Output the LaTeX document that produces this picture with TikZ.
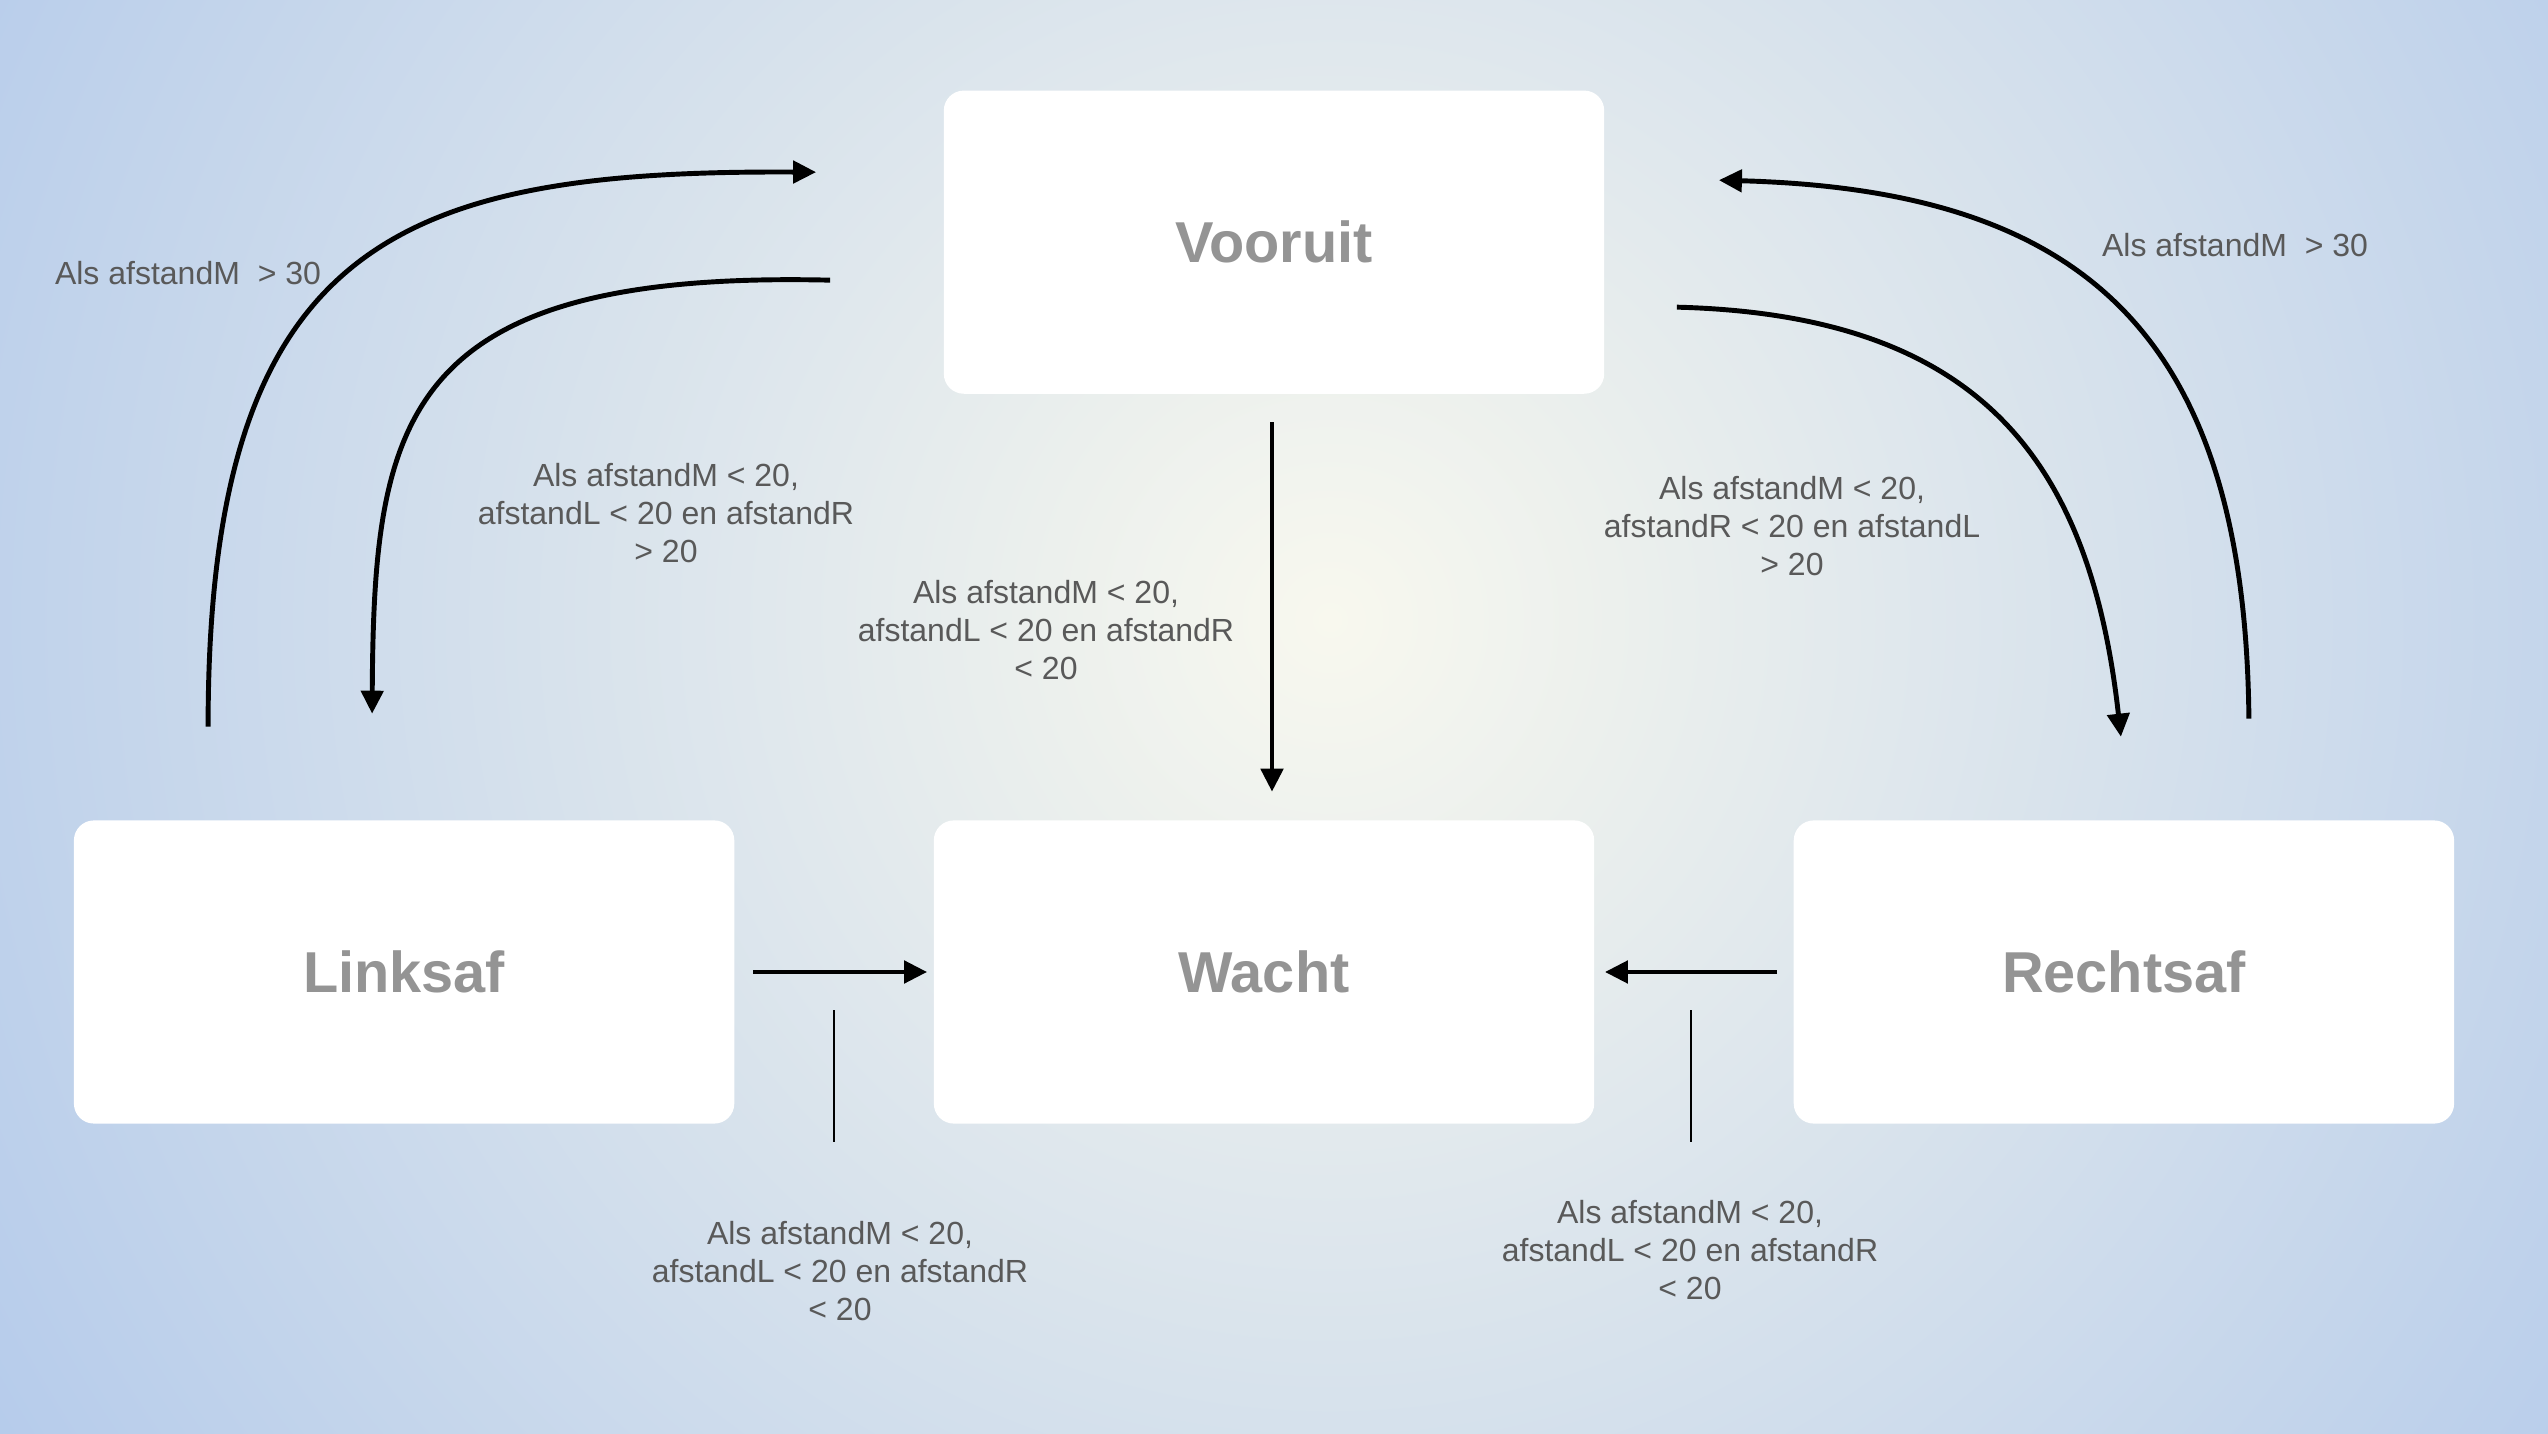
\documentclass[tikz,border=0pt]{standalone}
\usepackage{fontspec}
\setmainfont{Liberation Sans}
\usepackage{tikz}
\usetikzlibrary{positioning, arrows.meta, calc}
\definecolor{bg_center}{HTML}{F8F8EE}
\definecolor{bg_edge}{HTML}{ACC5EA}
\definecolor{mode_text}{HTML}{949494}
\definecolor{cond_text}{HTML}{595959}
\pgfdeclareradialshading{bgglow}{\pgfpointorigin}{color(0bp)=(bg_center); color(28bp)=(bg_edge); color(50bp)=(bg_edge)}
\tikzstyle{mode} = [rectangle, rounded corners=0.2cm, fill=white, minimum width=6.6cm, minimum height=3.03cm, text=mode_text, font=\bfseries\fontsize{16.4}{19}\selectfont]
\tikzstyle{cond} = [align=center, text=cond_text, font=\fontsize{9.1}{10.9}\selectfont]
\tikzstyle{arrow} = [line width=1.4pt, -{Triangle[length=0.23cm, width=0.22cm]}]
\tikzstyle{leader} = [line width=0.6pt]

\begin{document}
\begin{tikzpicture}[x=0.01cm, y=-0.01cm]
        \useasboundingbox (0,0) rectangle (2548,1434);
        \begin{scope}
            \clip (0,0) rectangle (2548,1434);
            \shade [shading=bgglow] (1330,620) circle [radius=16cm];
        \end{scope}
        \node (wacht) [mode] at (1264,972) {Wacht};
        \node (linksaf) [mode, left=1.98cm of wacht] {Linksaf};
        \node (rechtsaf) [mode, right=1.98cm of wacht] {Rechtsaf};
        \node (vooruit) [mode, above=4.25cm of wacht, xshift=0.1cm] {Vooruit};
        \draw [arrow, shorten <=0.28cm, shorten >=0.28cm] ([xshift=-0.02cm]vooruit.south) -- ([xshift=-0.02cm]vooruit.south |- wacht.north);
        \draw [arrow, shorten <=0.18cm, shorten >=0.06cm] (linksaf.east) -- (wacht.west);
        \draw [arrow, shorten <=0.16cm, shorten >=0.1cm] (rechtsaf.west) -- (wacht.east);
        \draw [arrow] ($(linksaf.north)+(-196,-93)$) .. controls (208,240) and (400,170) .. ($(vooruit.west)+(-127,-70)$);
        \draw [arrow] ($(vooruit.west)+(-113,38)$) .. controls (400,270) and (374,420) .. ($(linksaf.north)+(-32,-106)$);
        \draw [arrow] ($(rechtsaf.north)+(125,-101)$) .. controls (2245,330) and (2080,190) .. ($(vooruit.east)+(114,-62)$);
        \draw [arrow] ($(vooruit.east)+(72,65)$) .. controls (1980,315) and (2090,460) .. ($(rechtsaf.north)+(-3,-83)$);
        \draw [leader] ($(wacht.south west)+(-99,-114)$) -- ++(0,132);
        \draw [leader] ($(wacht.south east)+(96,-114)$) -- ++(0,132);
        \node (condTL) [cond] at (188,273) {Als afstandM\ \ > 30};
        \node (condTR) [cond] at (2235,245) {Als afstandM\ \ > 30};
        \node (condL) [cond] at (666,513) {Als afstandM < 20,\\ afstandL < 20 en afstandR\\ > 20};
        \node (condR) [cond] at (1792,526) {Als afstandM < 20,\\ afstandR < 20 en afstandL\\ > 20};
        \node (condM) [cond] at (1046,630) {Als afstandM < 20,\\ afstandL < 20 en afstandR\\ < 20};
        \node (condBL) [cond] at (840,1271) {Als afstandM < 20,\\ afstandL < 20 en afstandR\\ < 20};
        \node (condBR) [cond] at (1690,1250) {Als afstandM < 20,\\ afstandL < 20 en afstandR\\ < 20};
    \end{tikzpicture}
\end{document}
